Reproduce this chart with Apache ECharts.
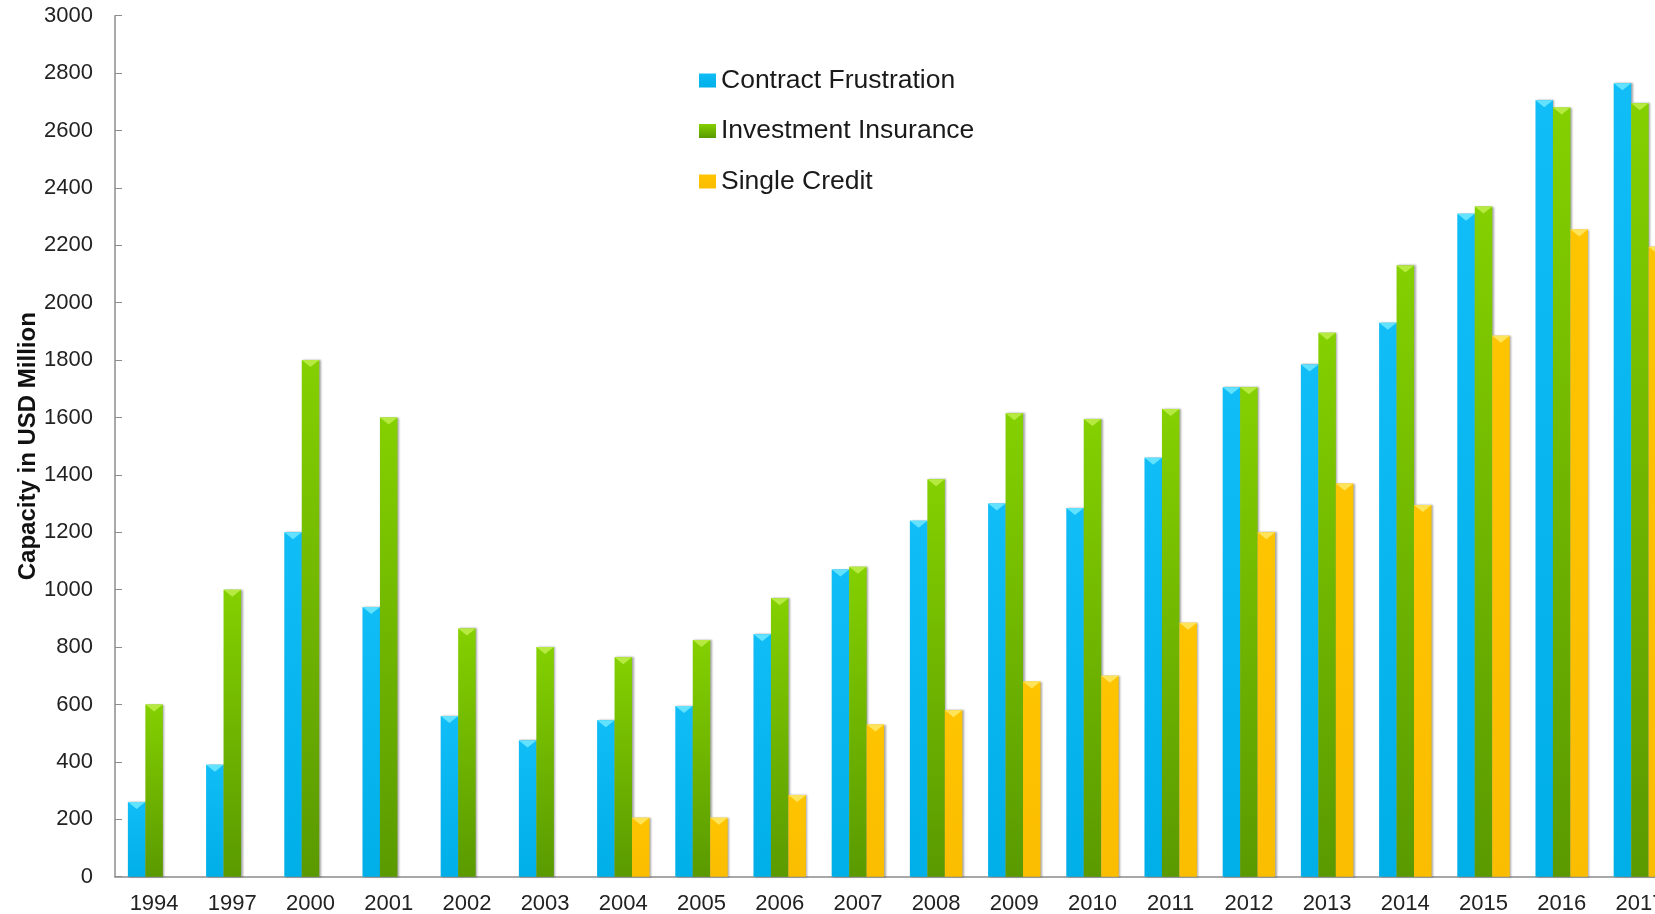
<!DOCTYPE html>
<html>
<head>
<meta charset="utf-8">
<script src="https://cdn.jsdelivr.net/npm/echarts@6/dist/echarts.min.js"></script>
<style>
html,body{margin:0;padding:0;background:#fff;}
#chart{width:1655px;height:914px;}
</style>
</head>
<body>
<div id="chart"></div>
<script>
var years = ['1994','1997','2000','2001','2002','2003','2004','2005','2006','2007','2008','2009','2010','2011','2012','2013','2014','2015','2016','2017'];
var contractFrustration = [260,390,1200,940,560,475,545,595,845,1070,1240,1300,1285,1460,1705,1785,1930,2310,2705,2765];
var investmentInsurance = [600,1000,1800,1600,865,800,765,825,970,1080,1385,1615,1595,1630,1705,1895,2130,2335,2680,2695];
var singleCredit = [null,null,null,null,null,null,205,205,285,530,580,680,700,885,1200,1370,1295,1885,2255,2195];

var chart = echarts.init(document.getElementById('chart'));
function grad(top, bottom){
  return new echarts.graphic.LinearGradient(0,0,0,1,[{offset:0,color:top},{offset:1,color:bottom}]);
}
var shadow = {shadowColor:'rgba(0,0,0,0.35)', shadowBlur:2, shadowOffsetX:1.5, shadowOffsetY:0};
var font = 'Liberation Sans, Arial, sans-serif';
function barSeries(name, data, color){
  return {name:name, type:'bar', data:data, barGap:'0%', barCategoryGap:'33%',
    itemStyle:Object.assign({color:color}, shadow)};
}
function capSeries(name, data, color){
  return {name:name, type:'pictorialBar', data:data, barGap:'0%', barCategoryGap:'33%',
    symbol:'triangle', symbolRotate:180, symbolPosition:'end', symbolSize:['100%',7],
    symbolOffset:[0,0], z:3, silent:true, itemStyle:{color:color}};
}
chart.setOption({
  animation:false,
  backgroundColor:'#fff',
  grid:{left:115, top:15.7, height:861, width:1564, containLabel:false, outerBoundsMode:'none'},
  legend:{
    orient:'vertical', left:699, top:67, padding:0, itemGap:23.5, itemWidth:17, itemHeight:14,
    icon:'rect',
    textStyle:{fontFamily:font, fontSize:26.5, color:'#1a1a1a', lineHeight:25},
    data:['Contract Frustration','Investment Insurance','Single Credit']
  },
  xAxis:{
    type:'category', data:years, boundaryGap:true,
    axisLine:{lineStyle:{color:'#8c8c8c', width:1.5}},
    axisTick:{inside:true, length:7, lineStyle:{color:'#8c8c8c'}},
    axisLabel:{fontFamily:font, fontSize:22, color:'#222', margin:16, interval:0}
  },
  yAxis:{
    type:'value', min:0, max:3000, interval:200,
    name:'Capacity in USD Million', nameLocation:'middle', nameGap:75, nameMoveOverlap:false,
    nameTextStyle:{fontFamily:font, fontSize:24, fontWeight:'bold', color:'#111'},
    splitLine:{show:false},
    axisLine:{show:true, lineStyle:{color:'#8c8c8c', width:1.5}},
    axisTick:{show:true, inside:true, length:7, lineStyle:{color:'#8c8c8c'}},
    axisLabel:{fontFamily:font, fontSize:22, color:'#222', margin:22, formatter:function(v){return String(v);}}
  },
  series:[
    barSeries('Contract Frustration', contractFrustration, grad('#10bdf6','#00aee8')),
    barSeries('Investment Insurance', investmentInsurance, grad('#84d000','#5a9a00')),
    barSeries('Single Credit', singleCredit, grad('#ffc400','#fbbd00')),
    capSeries('cap1', contractFrustration, '#62e2ff'),
    capSeries('cap2', investmentInsurance, '#b6ea40'),
    capSeries('cap3', singleCredit, '#ffe45a')
  ]
});
</script>
</body>
</html>
